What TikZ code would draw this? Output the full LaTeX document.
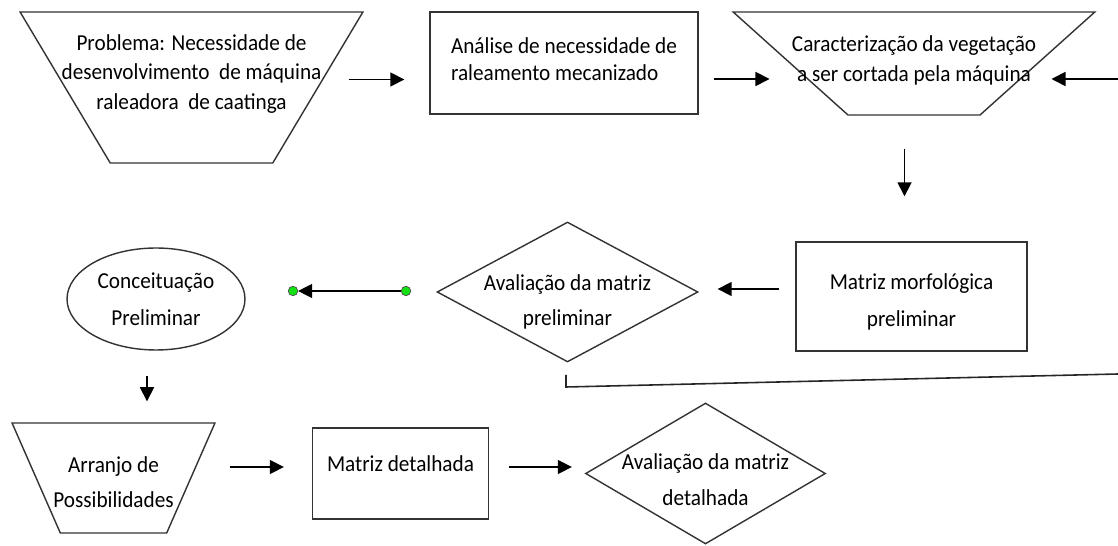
\documentclass[tikz,border=0pt]{standalone}
\usepackage{fontspec}
\setmainfont{Carlito}[FakeStretch=0.93]
\usepackage{tikz}
\usetikzlibrary{shapes.geometric,arrows.meta,positioning}
\definecolor{verde}{RGB}{20,225,20}
\tikzset{
  every node/.style={font=\fontsize{13}{17}\selectfont, text=black},
  caixa/.style={draw=black!80, line width=0.8pt, rectangle, inner sep=0pt},
  trap/.style={draw=black!80, line width=0.8pt, trapezium, shape border rotate=180,
    trapezium stretches=true, inner sep=2pt},
  losango/.style={draw=black!80, line width=0.8pt, diamond, inner sep=0pt},
  elipse/.style={draw=black!80, line width=0.8pt, ellipse, inner sep=0pt, align=center},
  texto/.style={align=center, inner sep=0pt},
  seta/.style={-{Triangle[length=8pt,width=8pt]}, line width=0.9pt},
  ponto/.style={circle, fill=verde, draw=black!70, line width=0.4pt, inner sep=0pt, minimum size=0.19cm},
}
\begin{document}
\begin{tikzpicture}[x=0.02cm,y=-0.02cm]
%
\useasboundingbox (0,0) rectangle (1118,546);
%
\node[trap, trapezium angle=61, minimum width=6.86cm, minimum height=3.02cm] (prob) at (191.5,87.5) {\mbox{}};
\node[texto] (probtxt) at ([yshift=0.27cm]prob.center) {Problema: Necessidade de\\desenvolvimento \ de máquina\\raleadora \ de caatinga};
\node[caixa, minimum width=5.36cm, minimum height=2.04cm] (anal) at (564,63) {\mbox{}};
\node[texto, align=left] (analtxt) at ([yshift=0.08cm]anal.center) {Análise de necessidade de\\[-1.5pt]raleamento mecanizado};
\node[trap, trapezium angle=49, minimum width=7.24cm, minimum height=2.06cm] (carac) at (914,63.5) {\mbox{}};
\node[texto] (caractxt) at ([yshift=0.07cm]carac.center) {Caracterização da vegetação\\a ser cortada pela máquina};
\node[caixa, minimum width=4.62cm, minimum height=2.18cm] (morf) at (911.5,296.5) {};
\node[texto] (morftxt) at ([yshift=-0.1cm]morf.center) {Matriz morfológica\\[4pt]preliminar};
\node[losango, minimum width=5.22cm, minimum height=2.8cm] (avprel) at (567.5,292) {\mbox{}};
\node[texto] (avpreltxt) at ([yshift=-0.2cm]avprel.center) {Avaliação da matriz\\[3pt]preliminar};
\node[ponto] (pdir) at (406,291) {};
\node[ponto] (pesq) at (293,291) {};
\node[elipse, minimum width=3.56cm, minimum height=2.04cm] (conc) at (156,299) {Conceituação\\[4pt]Preliminar};
\node[trap, trapezium angle=65.6, minimum width=4.06cm, minimum height=2.2cm] (arr) at (113.5,478) {\mbox{}};
\node[texto] (arrtxt) at ([yshift=-0.08cm]arr.center) {Arranjo de\\[3pt]Possibilidades};
\node[caixa, minimum width=3.52cm, minimum height=1.82cm] (detal) at (400.5,473.5) {};
\node[texto] (detaltxt) at ([yshift=0.2cm]detal.center) {Matriz detalhada};
\node[losango, minimum width=4.8cm, minimum height=2.82cm] (avdet) at (705.5,473.5) {\mbox{}};
\node[texto] (avdettxt) at ([yshift=-0.13cm]avdet.center) {Avaliação da matriz\\[3.5pt]detalhada};
%
\coordinate (dir) at (1118,79);
\coordinate (la) at (566,375);
\coordinate (lb) at (566,387);
\coordinate (lc) at (1118,374);
%
\draw[seta, shorten <=0.6cm, shorten >=0.5cm] ([yshift=0.16cm]prob.east) -- ([yshift=0.16cm]prob.east -| anal.west);
\draw[seta, shorten <=0.3cm, shorten >=0.4cm] ([yshift=-0.32cm]anal.east) -- ([yshift=-0.32cm]anal.east -| carac.west);
\draw[seta, shorten >=0.26cm] (dir) -- (dir -| carac.east);
\draw[seta, shorten <=0.66cm, shorten >=0.9cm] ([xshift=-0.19cm]carac.south) -- ([xshift=-0.19cm]carac.south |- morf.north);
\draw[seta, shorten <=0.32cm, shorten >=0.38cm] ([yshift=0.15cm]morf.west) -- ([yshift=0.15cm]morf.west -| avprel.east);
\draw[seta, line width=0.8pt] (pdir) -- (pesq);
\draw[seta, shorten <=0.5cm, shorten >=0.42cm] ([xshift=-0.18cm]conc.south) -- ([xshift=-0.18cm]conc.south |- arr.north);
\draw[seta, shorten <=0.76cm, shorten >=0.56cm] ([yshift=0.22cm]arr.east) -- ([yshift=0.22cm]arr.east -| detal.west);
\draw[seta, shorten <=0.4cm, shorten >=0.26cm] ([yshift=0.13cm]detal.east) -- ([yshift=0.13cm]detal.east -| avdet.west);
\draw[line width=0.9pt, black!85] (la) -- (lb) -- (lc);
%
\end{tikzpicture}
\end{document}
